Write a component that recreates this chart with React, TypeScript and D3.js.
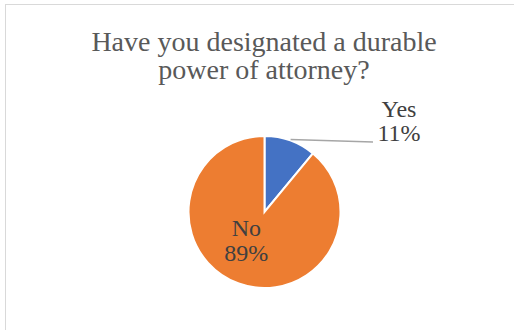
import React from "react";
import * as d3 from "d3";

const title = ["Have you designated a durable", "power of attorney?"];
const categories = ["Yes", "No"];
const values = [11, 89];
const colors = ["#4472C4", "#ED7D31"];

const W = 514;
const H = 330;
const cx = 264.5;
const cy = 212;
const R = 76;
const FONT = '"Liberation Serif"';

function T(props: { x: number; y: number; size: number; fill: string; children: React.ReactNode }) {
  return (
    <text
      x={props.x}
      y={props.y}
      fontSize={props.size}
      fill={props.fill}
      textAnchor="middle"
      style={{ fontFamily: FONT }}
    >
      {props.children}
    </text>
  );
}

export default function App() {
  const pie = d3.pie<number>().sort(null).value((d) => d);
  const arcs = pie(values);
  const arc = d3.arc<d3.PieArcDatum<number>>().innerRadius(0).outerRadius(R);
  const total = d3.sum(values);
  const pct = (v: number) => `${Math.round((v / total) * 100)}%`;

  const yes = arcs[0];
  const no = arcs[1];
  const yesMid = (yes.startAngle + yes.endAngle) / 2;
  const leadStart: [number, number] = [Math.sin(yesMid) * (R + 1), -Math.cos(yesMid) * (R + 1)];
  const leadEnd: [number, number] = [373 - cx, 142 - cy];
  const noMid = (no.startAngle + no.endAngle) / 2;
  const noPos: [number, number] = [Math.sin(noMid) * 36 - 6, -Math.cos(noMid) * 36 - 10];

  return (
    <svg
      width={W}
      height={H}
      style={{ position: "absolute", left: 0, top: 0, background: "#fff" }}
    >
      <rect x={5.5} y={4.5} width={W} height={H} fill="#fff" stroke="#D9D9D9" strokeWidth={1} />
      {title.map((t, i) => (
        <T key={i} x={264} y={50.5 + i * 28.6} size={28} fill="#595959">
          {t}
        </T>
      ))}
      <g transform={`translate(${cx},${cy})`}>
        {arcs.map((a, i) => (
          <path key={categories[i]} d={arc(a) || ""} fill={colors[i]} stroke="#fff" strokeWidth={2} strokeLinejoin="miter" />
        ))}
        <line
          x1={leadStart[0]}
          y1={leadStart[1]}
          x2={leadEnd[0]}
          y2={leadEnd[1]}
          stroke="#A6A6A6"
          strokeWidth={1.5}
        />
        <T x={399 - cx} y={116.5 - cy} size={24} fill="#404040">{categories[0]}</T>
        <T x={399 - cx} y={141 - cy} size={24} fill="#404040">{pct(values[0])}</T>
        <T x={noPos[0]} y={noPos[1]} size={24} fill="#404040">{categories[1]}</T>
        <T x={noPos[0]} y={noPos[1] + 25} size={24} fill="#404040">{pct(values[1])}</T>
      </g>
    </svg>
  );
}
